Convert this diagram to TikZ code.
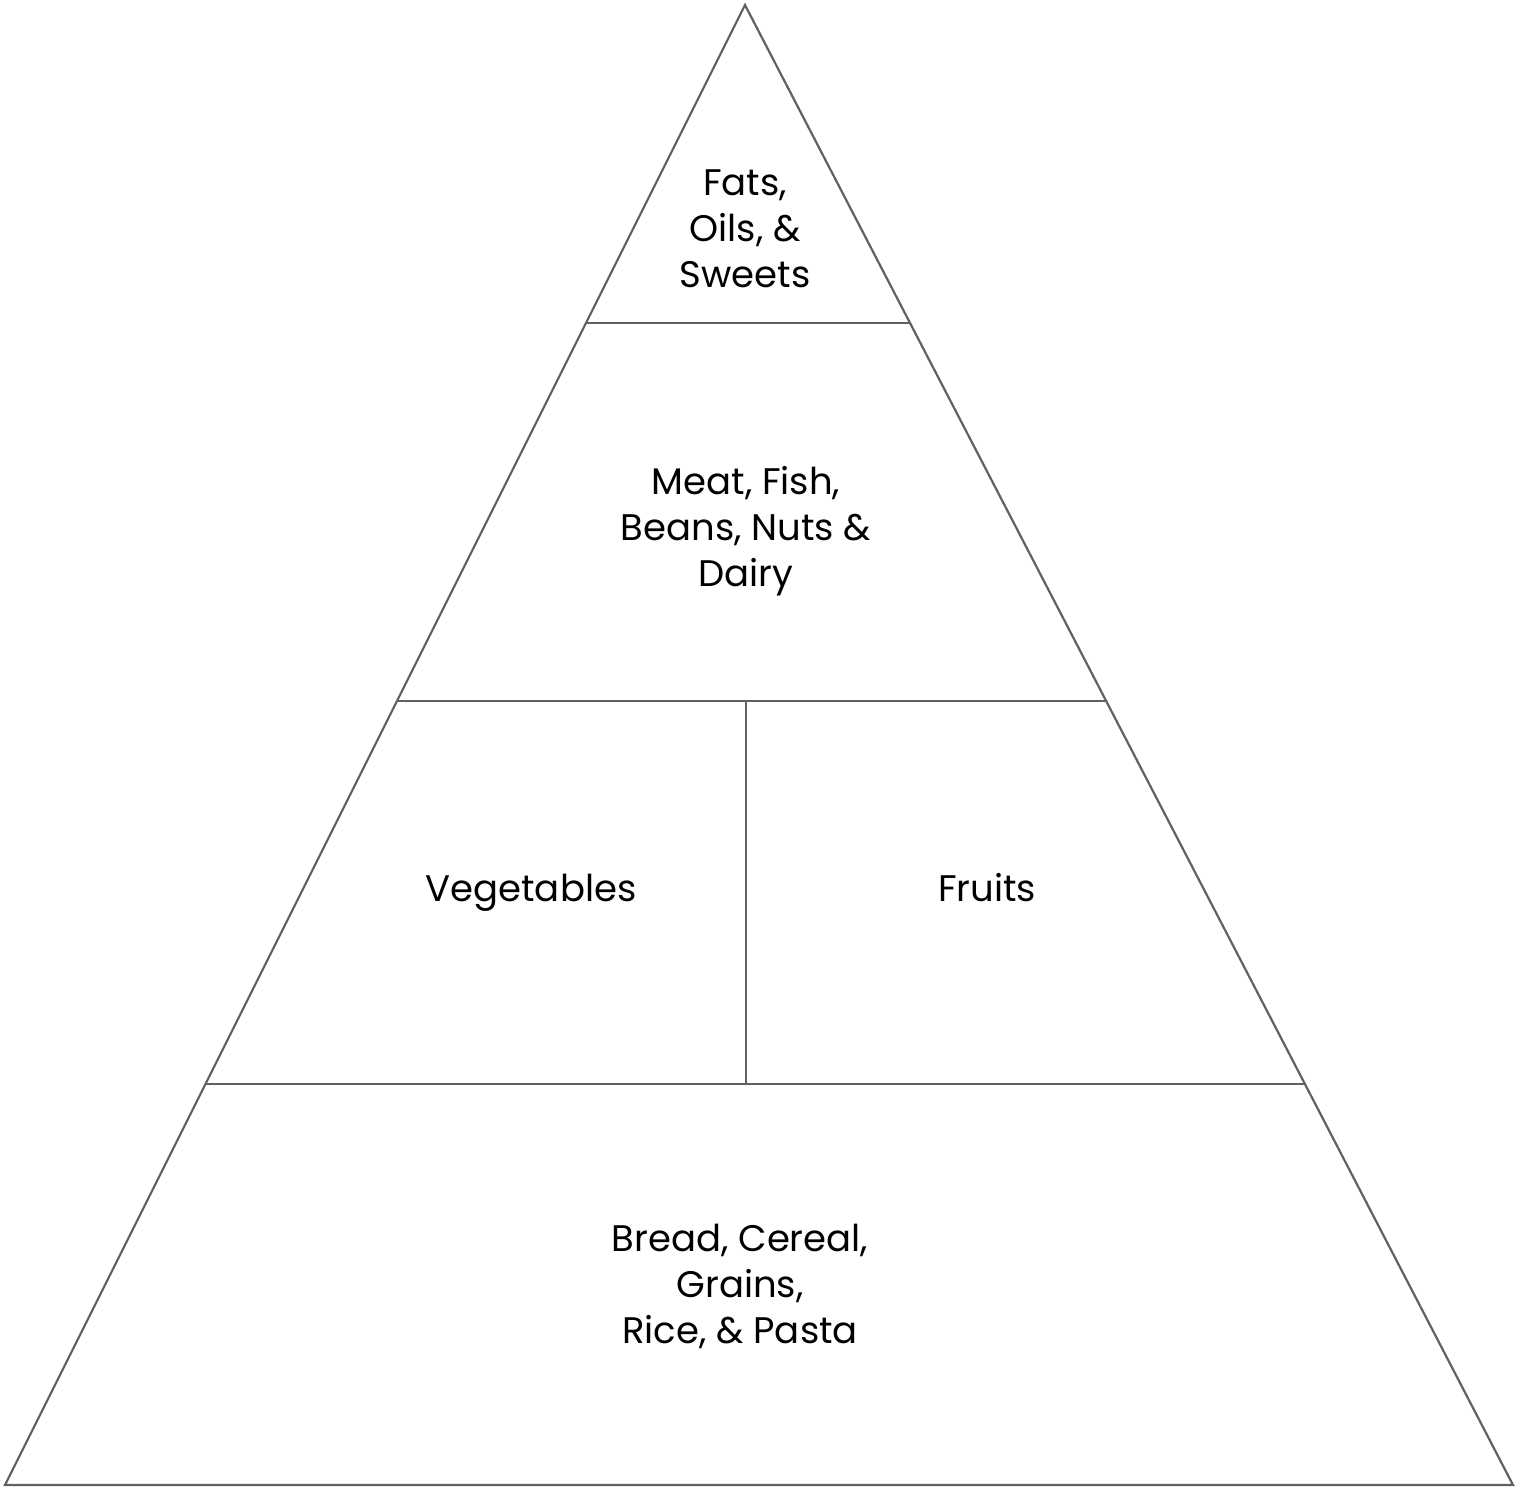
\documentclass[tikz,border=0pt]{standalone}
\usepackage{fontspec}
\setmainfont{Poppins}
\begin{document}
\begin{tikzpicture}[x=1pt,y=-1pt,
  edge/.style={draw=black!62, line width=2.2pt, line join=miter},
  lbl/.style={align=center, font=\fontsize{37}{46}\selectfont, text=black, inner sep=0pt}]
\useasboundingbox (0,0) rectangle (1516,1489);
\coordinate (apex) at (745,5);
\coordinate (bl) at (5,1485);
\coordinate (br) at (1513,1485);
\coordinate (l1) at (586,323);  \coordinate (r1) at (909,323);
\coordinate (l2) at (398,701);  \coordinate (r2) at (1106,701);
\coordinate (l3) at (205,1084); \coordinate (r3) at (1305,1084);
\coordinate (vt) at (746,701);  \coordinate (vb) at (746,1084);
\draw[edge] (apex) -- (bl) -- (br) -- cycle;
\draw[edge] (l1) -- (r1);
\draw[edge] (l2) -- (r2);
\draw[edge] (l3) -- (r3);
\draw[edge] (vt) -- (vb);
\node[lbl, anchor=base] (fats) at (745,287) {Fats,\\Oils, \&\\Sweets};
\node[lbl, anchor=base] (meat) at (746,586) {Meat, Fish,\\Beans, Nuts \&\\Dairy};
\node[lbl, anchor=base] (veg) at (531,901) {Vegetables};
\node[lbl, anchor=base] (fruit) at (987,901) {Fruits};
\node[lbl, anchor=base] (bread) at (740,1343) {Bread, Cereal,\\Grains,\\Rice, \& Pasta};
\end{tikzpicture}
\end{document}
